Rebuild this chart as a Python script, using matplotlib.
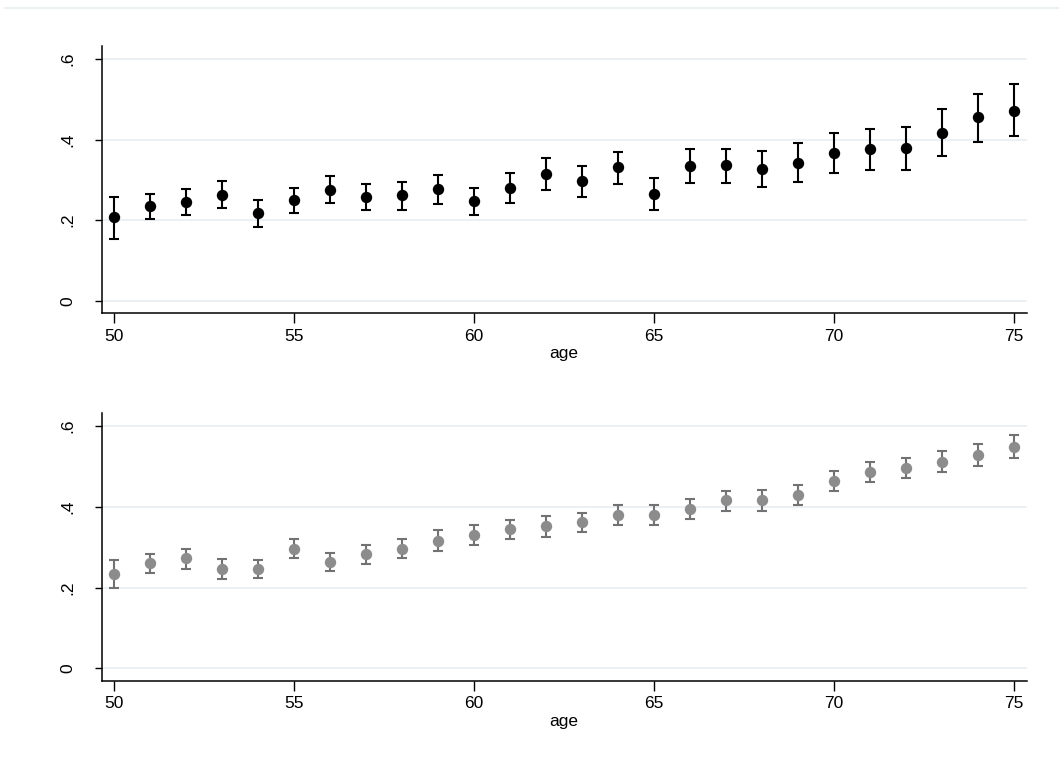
import matplotlib
matplotlib.use("Agg")
import matplotlib.pyplot as plt
from matplotlib.lines import Line2D
import numpy as np

plt.rcParams['font.family'] = ['Liberation Sans', 'DejaVu Sans']

ages = list(range(50, 76))

top_mean = [0.207, 0.235, 0.244, 0.263, 0.217, 0.250, 0.274, 0.258, 0.262, 0.277,
            0.247, 0.280, 0.314, 0.298, 0.331, 0.265, 0.334, 0.337, 0.328, 0.342,
            0.367, 0.376, 0.380, 0.417, 0.455, 0.472]
top_lo = [0.154, 0.203, 0.212, 0.231, 0.183, 0.218, 0.242, 0.224, 0.226, 0.240,
          0.212, 0.243, 0.274, 0.257, 0.289, 0.226, 0.291, 0.293, 0.283, 0.295,
          0.317, 0.325, 0.325, 0.358, 0.394, 0.408]
top_hi = [0.258, 0.266, 0.277, 0.297, 0.249, 0.281, 0.309, 0.290, 0.294, 0.313,
          0.281, 0.316, 0.354, 0.334, 0.370, 0.304, 0.376, 0.377, 0.371, 0.391,
          0.415, 0.426, 0.432, 0.475, 0.514, 0.538]

bot_mean = [0.233, 0.260, 0.272, 0.247, 0.247, 0.296, 0.263, 0.283, 0.296, 0.316,
            0.329, 0.344, 0.351, 0.361, 0.380, 0.379, 0.393, 0.416, 0.417, 0.429,
            0.463, 0.486, 0.496, 0.511, 0.528, 0.547]
bot_lo = [0.198, 0.237, 0.247, 0.222, 0.224, 0.272, 0.240, 0.259, 0.272, 0.291,
          0.305, 0.321, 0.326, 0.336, 0.355, 0.355, 0.369, 0.390, 0.390, 0.405,
          0.439, 0.461, 0.470, 0.486, 0.500, 0.519]
bot_hi = [0.268, 0.283, 0.294, 0.270, 0.267, 0.319, 0.286, 0.305, 0.319, 0.342,
          0.354, 0.367, 0.376, 0.384, 0.405, 0.403, 0.418, 0.439, 0.440, 0.454,
          0.489, 0.511, 0.520, 0.538, 0.554, 0.576]

xticks = [50, 55, 60, 65, 70, 75]
yticks = [0, 0.2, 0.4, 0.6]
ytick_labels = ['0', '.2', '.4', '.6']

W, H = 1059, 771
fig = plt.figure(figsize=(W / 100, H / 100), dpi=100)
fig.patch.set_facecolor('white')

# faint outer border line at the top
fig.add_artist(Line2D([5 / W, 1.0], [1 - 7.5 / H, 1 - 7.5 / H], color='#e8eff1', lw=1.2,
                      transform=fig.transFigure))

left = 101.7 / W
width = (1026.7 - 101.7) / W
ax1 = fig.add_axes([left, 1 - 313.3 / H, width, (313.3 - 46) / H])
ax2 = fig.add_axes([left, 1 - 681 / H, width, (681 - 412.7) / H])

def draw(ax, mean, lo, hi, mcolor, ecolor):
    m = np.array(mean)
    yerr = [m - np.array(lo), np.array(hi) - m]
    ax.errorbar(ages, m, yerr=yerr, fmt='none', ecolor=ecolor, elinewidth=1.5,
                capsize=3.3, capthick=1.5, zorder=3)
    ax.plot(ages, m, 'o', color=mcolor, markersize=8.2, markeredgewidth=0, zorder=4)
    ax.set_xlim(49.65, 75.35)
    ax.set_ylim(-0.031, 0.632)
    ax.set_xticks(xticks)
    ax.set_xticklabels([str(t) for t in xticks], fontsize=12.5)
    ax.set_yticks(yticks)
    ax.set_yticklabels(ytick_labels, fontsize=12.5, rotation=90, va='center')
    for s in ['top', 'right']:
        ax.spines[s].set_visible(False)
    for s in ['left', 'bottom']:
        ax.spines[s].set_linewidth(1.1)
        ax.spines[s].set_color('black')
    ax.tick_params(axis='x', length=7, width=1.0, pad=4)
    ax.tick_params(axis='y', length=5, width=1.0, pad=14)
    ax.grid(axis='y', color='#e6eef1', linewidth=1.2)
    ax.set_axisbelow(True)
    ax.set_xlabel('age', fontsize=12.5, labelpad=2)

draw(ax1, top_mean, top_lo, top_hi, 'black', 'black')
draw(ax2, bot_mean, bot_lo, bot_hi, '#8c8c8c', '#727272')

fig.savefig('out.png', dpi=100, facecolor='white')
